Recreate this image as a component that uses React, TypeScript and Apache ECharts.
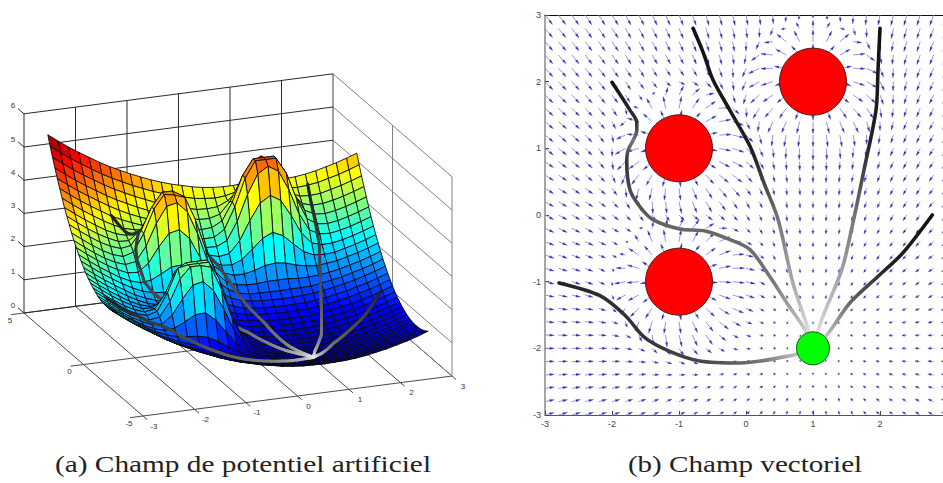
import React, { useEffect, useRef } from "react";
import * as echarts from "echarts";

// Heights of the potential surface.
// Rows run from y = 3 down to y = -3, columns from x = -3 to x = 3, one sample every 0.2.
const surfaceRows: number[][] = [
[5.99,5.76,5.54,5.34,5.15,4.96,4.79,4.64,4.49,4.36,4.23,4.12,4.02,3.94,3.86,3.80,3.76,3.74,3.74,3.77,3.77,3.77,3.74,3.74,3.76,3.80,3.86,3.94,4.02,4.12,4.23],
[5.70,5.47,5.25,5.05,4.86,4.67,4.50,4.35,4.20,4.07,3.94,3.83,3.73,3.65,3.57,3.53,3.50,3.53,3.60,3.70,3.74,3.70,3.60,3.53,3.50,3.53,3.57,3.65,3.73,3.83,3.94],
[5.43,5.20,4.98,4.78,4.59,4.40,4.23,4.08,3.93,3.80,3.67,3.56,3.46,3.38,3.30,3.28,3.30,3.44,3.71,4.00,4.14,4.00,3.71,3.44,3.30,3.28,3.30,3.38,3.46,3.56,3.67],
[5.17,4.94,4.72,4.52,4.33,4.14,3.97,3.82,3.67,3.54,3.41,3.30,3.20,3.12,3.06,3.05,3.14,3.48,4.05,4.54,4.73,4.54,4.05,3.48,3.14,3.05,3.06,3.12,3.20,3.30,3.41],
[4.92,4.69,4.47,4.27,4.08,3.89,3.72,3.57,3.44,3.32,3.19,3.08,2.97,2.87,2.82,2.84,3.00,3.53,4.30,4.75,4.75,4.75,4.30,3.53,3.00,2.84,2.82,2.87,2.95,3.05,3.16],
[4.68,4.45,4.23,4.03,3.84,3.65,3.50,3.37,3.25,3.16,3.04,2.92,2.78,2.67,2.60,2.61,2.81,3.44,4.26,4.75,4.75,4.75,4.26,3.44,2.81,2.61,2.58,2.63,2.71,2.81,2.92],
[4.45,4.22,4.00,3.80,3.61,3.44,3.30,3.22,3.17,3.15,3.07,2.91,2.70,2.52,2.40,2.39,2.53,3.06,3.83,4.42,4.61,4.42,3.83,3.06,2.53,2.37,2.35,2.40,2.48,2.58,2.69],
[4.23,4.00,3.78,3.58,3.39,3.24,3.15,3.18,3.33,3.50,3.52,3.26,2.86,2.48,2.24,2.15,2.20,2.54,3.11,3.60,3.79,3.60,3.11,2.54,2.20,2.11,2.12,2.18,2.26,2.36,2.47],
[4.03,3.80,3.58,3.38,3.21,3.07,3.05,3.28,3.73,4.10,4.17,3.86,3.26,2.58,2.12,1.95,1.92,2.04,2.31,2.60,2.74,2.60,2.31,2.04,1.90,1.88,1.90,1.98,2.06,2.16,2.27],
[3.84,3.61,3.39,3.19,3.03,2.92,2.97,3.39,4.04,4.45,4.45,4.27,3.57,2.69,2.04,1.78,1.67,1.67,1.74,1.84,1.88,1.84,1.74,1.67,1.64,1.67,1.71,1.79,1.87,1.97,2.08],
[3.65,3.42,3.20,3.00,2.84,2.74,2.83,3.35,4.05,4.45,4.39,4.28,3.58,2.65,1.90,1.58,1.45,1.40,1.40,1.43,1.43,1.43,1.40,1.40,1.42,1.46,1.52,1.60,1.68,1.78,1.89],
[3.48,3.25,3.03,2.83,2.67,2.56,2.61,3.03,3.68,4.15,4.22,3.91,3.21,2.33,1.68,1.40,1.26,1.19,1.18,1.18,1.17,1.18,1.18,1.19,1.23,1.29,1.35,1.43,1.51,1.61,1.72],
[3.33,3.10,2.88,2.68,2.51,2.37,2.35,2.58,3.03,3.40,3.47,3.16,2.56,1.88,1.42,1.21,1.10,1.04,1.01,1.00,.99,1.00,1.01,1.04,1.08,1.14,1.20,1.28,1.36,1.46,1.57],
[3.18,2.95,2.73,2.53,2.34,2.19,2.10,2.13,2.28,2.45,2.47,2.21,1.81,1.43,1.17,1.03,.93,.89,.86,.85,.84,.85,.86,.89,.93,.99,1.05,1.13,1.21,1.31,1.42],
[3.05,2.82,2.60,2.40,2.21,2.04,1.90,1.82,1.79,1.78,1.70,1.54,1.32,1.12,.97,.88,.80,.76,.73,.72,.71,.72,.73,.76,.80,.86,.92,1.00,1.08,1.18,1.29],
[2.92,2.69,2.47,2.27,2.08,1.89,1.76,1.65,1.56,1.51,1.40,1.27,1.09,.95,.83,.73,.67,.63,.60,.59,.58,.59,.60,.63,.67,.73,.79,.87,.95,1.05,1.16],
[2.81,2.58,2.36,2.16,1.97,1.80,1.66,1.58,1.55,1.54,1.46,1.30,1.08,.88,.73,.64,.56,.52,.49,.48,.47,.48,.49,.52,.56,.62,.68,.76,.84,.94,1.05],
[2.71,2.48,2.26,2.06,1.87,1.72,1.63,1.66,1.81,1.98,2.00,1.74,1.34,.96,.70,.56,.46,.42,.39,.38,.37,.38,.39,.42,.46,.52,.58,.66,.74,.84,.95],
[2.63,2.40,2.18,1.98,1.81,1.67,1.65,1.88,2.33,2.70,2.77,2.46,1.86,1.18,.72,.51,.40,.34,.31,.30,.29,.30,.31,.34,.38,.44,.50,.58,.66,.76,.87],
[2.55,2.32,2.10,1.90,1.74,1.63,1.68,2.10,2.75,2.95,2.95,2.95,2.28,1.40,.75,.47,.33,.26,.23,.22,.21,.22,.23,.26,.30,.36,.42,.50,.58,.68,.79],
[2.49,2.26,2.04,1.84,1.68,1.58,1.67,2.19,2.89,2.95,2.95,2.95,2.42,1.49,.74,.42,.27,.20,.17,.16,.15,.16,.17,.20,.24,.30,.36,.44,.52,.62,.73],
[2.43,2.20,1.98,1.78,1.62,1.51,1.56,1.98,2.63,2.95,2.95,2.86,2.16,1.28,.63,.35,.21,.14,.11,.10,.09,.10,.11,.14,.18,.24,.30,.38,.46,.56,.67],
[2.39,2.16,1.94,1.74,1.57,1.43,1.41,1.64,2.09,2.46,2.53,2.22,1.62,.94,.48,.27,.16,.10,.07,.06,.05,.06,.07,.10,.14,.20,.26,.34,.42,.52,.63],
[2.36,2.13,1.91,1.71,1.52,1.37,1.28,1.31,1.46,1.63,1.65,1.39,.99,.61,.35,.21,.11,.07,.04,.03,.02,.03,.04,.07,.11,.17,.23,.31,.39,.49,.60],
[2.35,2.12,1.90,1.70,1.51,1.34,1.20,1.12,1.07,1.05,.97,.81,.60,.42,.27,.18,.10,.06,.03,.02,.01,.02,.03,.06,.10,.16,.22,.30,.38,.48,.59],
[2.34,2.11,1.89,1.69,1.50,1.31,1.16,1.03,.91,.82,.70,.58,.44,.33,.23,.15,.09,.05,.02,.01,0,.01,.02,.05,.09,.15,.21,.29,.37,.47,.58],
[2.35,2.12,1.90,1.70,1.51,1.32,1.15,1.00,.87,.75,.62,.51,.40,.30,.22,.16,.10,.06,.03,.02,.01,.02,.03,.06,.10,.16,.22,.30,.38,.48,.59],
[2.36,2.13,1.91,1.71,1.52,1.33,1.16,1.01,.86,.73,.60,.49,.39,.31,.23,.17,.11,.07,.04,.03,.02,.03,.04,.07,.11,.17,.23,.31,.39,.49,.60],
[2.39,2.16,1.94,1.74,1.55,1.36,1.19,1.04,.89,.76,.63,.52,.42,.34,.26,.20,.14,.10,.07,.06,.05,.06,.07,.10,.14,.20,.26,.34,.42,.52,.63],
[2.43,2.20,1.98,1.78,1.59,1.40,1.23,1.08,.93,.80,.67,.56,.46,.38,.30,.24,.18,.14,.11,.10,.09,.10,.11,.14,.18,.24,.30,.38,.46,.56,.67],
[2.49,2.26,2.04,1.84,1.65,1.46,1.29,1.14,.99,.86,.73,.62,.52,.44,.36,.30,.24,.20,.17,.16,.15,.16,.17,.20,.24,.30,.36,.44,.52,.62,.73],
];

// Robot paths as [x, y].
const pathA = [[-2.79,-1.02],[-2.18,-1.21],[-1.81,-1.5],[-1.51,-1.84],[-1.13,-2.05],[-.69,-2.19],[-.09,-2.22],[.66,-2.11],[1,-2]];
const pathB = [[-2,1.99],[-1.73,1.57],[-1.63,1.39],[-1.63,1.27],[-1.76,.97],[-1.78,.79],[-1.73,.37],[-1.58,.12],[-1.39,-.07],[-.99,-.21],[-.61,-.24],[-.24,-.37],[.06,-.52],[.36,-.93],[.61,-1.32],[.88,-1.72],[1,-2]];
const pathC = [[-.79,2.8],[-.64,2.44],[-.49,2.02],[-.24,1.57],[.06,1.03],[.28,.45],[.48,-.07],[.7,-1.02],[.93,-1.72],[1,-2]];
const pathD = [[2,2.8],[1.97,2.17],[1.94,1.57],[1.76,.67],[1.6,-.1],[1.43,-.82],[1.13,-1.57],[1,-2]];
const pathE = [[2.78,0],[2.34,-.57],[1.96,-.93],[1.55,-1.32],[1.21,-1.8],[1,-2]];
const paths = [pathA, pathB, pathC, pathD, pathE];

const obstacles = [[-1,1],[-1,-1],[1,2]];
const goal = [[1,-2]];

const xTicks3d = [-3,-2,-1,0,1,2,3];
const yTicks3d = [-5,0,5];
const zTicks3d = [0,1,2,3,4,5,6];

const captionA = "(a) Champ de potentiel artificiel";
const captionB = "(b) Champ vectoriel";

const N = surfaceRows.length;
const STEP = 0.2;

// Oblique view of the box of the left-hand panel, onto that panel's plain x/y axes.
const project = (x: number, y: number, z: number) => {
  const u = (x + 3) / 6, v = (y + 5) / 10;
  return [143 + u * 309 - v * 119, 416 - u * 40 - v * 103 - z * 33.2];
};
const depthOf = (x: number, y: number) => 40 * (x + 3) / 6 + 103 * (y + 5) / 10;

const clamp = (v: number) => Math.max(0, Math.min(1, v));
const jet = (v: number) => {
  const c = (o: number) => Math.round(255 * clamp(1.5 - Math.abs(4 * v - o)));
  return `rgb(${c(3)},${c(2)},${c(1)})`;
};

const heightAt = (x: number, y: number) => {
  const fi = Math.max(0, Math.min(N - 1.001, (x + 3) / STEP));
  const fj = Math.max(0, Math.min(N - 1.001, (3 - y) / STEP));
  const i = Math.floor(fi), j = Math.floor(fj), a = fi - i, b = fj - j;
  return (surfaceRows[j][i] * (1 - a) + surfaceRows[j][i + 1] * a) * (1 - b) +
    (surfaceRows[j + 1][i] * (1 - a) + surfaceRows[j + 1][i + 1] * a) * b;
};

const grayStops = [[0, 0x1c], [0.15, 0x33], [0.5, 0x55], [0.8, 0x80], [0.95, 0xbb], [1, 0xee]];
const grayAt = (t: number) => {
  for (let k = 1; k < grayStops.length; k++) {
    if (t <= grayStops[k][0]) {
      const [t0, g0] = grayStops[k - 1], [t1, g1] = grayStops[k];
      const g = Math.round(g0 + (g1 - g0) * (t - t0) / (t1 - t0));
      return `rgb(${g},${g},${g})`;
    }
  }
  return "#eee";
};

type Item = { depth: number; pts: number[][]; fill?: string; stroke?: string };

const buildSurfaceItems = () => {
  const items: Item[] = [];
  for (let j = 0; j < N - 1; j++) {
    for (let i = 0; i < N - 1; i++) {
      const xs = [i, i + 1, i + 1, i], js = [j, j, j + 1, j + 1];
      const pts = xs.map((ci, k) => project(-3 + ci * STEP, 3 - js[k] * STEP, surfaceRows[js[k]][ci]));
      const zMean = (surfaceRows[j][i] + surfaceRows[j][i + 1] + surfaceRows[j + 1][i] + surfaceRows[j + 1][i + 1]) / 4;
      items.push({
        depth: depthOf(-3 + (i + 0.5) * STEP, 3 - (j + 0.5) * STEP),
        pts,
        fill: jet(zMean / 6),
      });
    }
  }
  paths.forEach((p) => {
    let total = 0;
    for (let k = 1; k < p.length; k++) total += Math.hypot(p[k][0] - p[k - 1][0], p[k][1] - p[k - 1][1]);
    let run = 0;
    for (let k = 1; k < p.length; k++) {
      const len = Math.hypot(p[k][0] - p[k - 1][0], p[k][1] - p[k - 1][1]);
      const n = Math.max(1, Math.ceil(len / 0.08));
      for (let s = 0; s < n; s++) {
        const a = s / n, b = (s + 1) / n;
        const xa = p[k - 1][0] + (p[k][0] - p[k - 1][0]) * a, ya = p[k - 1][1] + (p[k][1] - p[k - 1][1]) * a;
        const xb = p[k - 1][0] + (p[k][0] - p[k - 1][0]) * b, yb = p[k - 1][1] + (p[k][1] - p[k - 1][1]) * b;
        items.push({
          depth: depthOf((xa + xb) / 2, (ya + yb) / 2) - 2.6,
          pts: [project(xa, ya, heightAt(xa, ya) + 0.03), project(xb, yb, heightAt(xb, yb) + 0.03)],
          stroke: grayAt((run + len * (a + b) / 2) / total),
        });
      }
      run += len;
    }
  });
  return items.sort((p, q) => q.depth - p.depth);
};

// The arrows of the right-hand panel follow the slope of the height table above.
const buildArrows = () => {
  const out: number[][] = [];
  for (let j = 0; j < N; j++) {
    for (let i = 0; i < N; i++) {
      const il = Math.max(0, i - 1), ir = Math.min(N - 1, i + 1);
      const jt = Math.max(0, j - 1), jb = Math.min(N - 1, j + 1);
      const gx = (surfaceRows[j][ir] - surfaceRows[j][il]) / ((ir - il) * STEP);
      const gy = (surfaceRows[jt][i] - surfaceRows[jb][i]) / ((jb - jt) * STEP);
      out.push([-3 + i * STEP, 3 - j * STEP, -gx, -gy]);
    }
  }
  return out;
};

type Seg = { a: number[]; b: number[]; color: string };
type Label = { at: number[]; text: string };

const buildBox = () => {
  const segs: Seg[] = [];
  const labels: Label[] = [];
  const add = (a: number[], b: number[], color: string) => segs.push({ a: project(a[0], a[1], a[2]), b: project(b[0], b[1], b[2]), color });
  const wallBack = "#2a2a2a", wallSide = "#808080", floor = "#4a4a4a";
  xTicks3d.forEach((x) => {
    add([x, 5, 0], [x, 5, 6], x === 3 ? wallSide : wallBack);
    add([x, -5.35, 0], [x, 5, 0], floor);
    const p = project(x, -5, 0);
    labels.push({ at: [p[0] + 11, p[1] + 10], text: String(x) });
  });
  yTicks3d.forEach((y) => {
    add([3, y, 0], [3, y, 6], wallSide);
    add([-3.25, y, 0], [3, y, 0], floor);
    const p = project(-3, y, 0);
    labels.push({ at: [p[0] - 14, p[1] + 7], text: String(y) });
  });
  zTicks3d.forEach((z) => {
    add([-3, 5, z], [3, 5, z], wallBack);
    add([3, 5, z], [3, -5, z], wallSide);
    add([-3, 5.5, z], [-3, 5, z], wallBack);
    const p = project(-3, 5, z);
    labels.push({ at: [p[0] - 11, p[1] - 8], text: String(z) });
  });
  return { segs, labels };
};

const surfaceItems = buildSurfaceItems();
const arrows = buildArrows();
const box = buildBox();

const lineGradient = (horizontal: boolean, stops: [number, string][]) =>
  new echarts.graphic.LinearGradient(0, 0, horizontal ? 1 : 0, horizontal ? 0 : 1,
    stops.map(([offset, color]) => ({ offset, color })));

const pathGradients = [
  lineGradient(true, [[0, "#222"], [0.55, "#444"], [0.8, "#777"], [0.93, "#bbb"], [1, "#eee"]]),
  lineGradient(false, [[0, "#111"], [0.15, "#333"], [0.22, "#777"], [0.3, "#333"], [0.55, "#666"], [0.75, "#777"], [0.9, "#bbb"], [1, "#eee"]]),
  lineGradient(false, [[0, "#111"], [0.4, "#222"], [0.6, "#777"], [0.8, "#aaa"], [1, "#eee"]]),
  lineGradient(false, [[0, "#111"], [0.35, "#222"], [0.6, "#777"], [0.8, "#aaa"], [1, "#eee"]]),
  lineGradient(false, [[0, "#111"], [0.4, "#222"], [0.65, "#666"], [0.85, "#aaa"], [1, "#eee"]]),
];

const App = () => {
  const ref = useRef<HTMLDivElement>(null);
  useEffect(() => {
    document.body.style.margin = "0";
    const chart = echarts.init(ref.current!, undefined, { renderer: "svg" });
    const labelFont = "Liberation Sans";
    const captionStyle = { font: "23px 'Liberation Serif'", fill: "#222", textAlign: "center", textVerticalAlign: "middle" };
    chart.setOption({
      animation: false,
      backgroundColor: "#fff",
      graphic: [
        { type: "text", x: 243, y: 465, scaleX: 1.275, style: { ...captionStyle, text: captionA } },
        { type: "text", x: 745, y: 465, scaleX: 1.265, style: { ...captionStyle, text: captionB } },
      ],
      grid: [
        { left: 0, top: 0, width: 480, height: 483, outerBoundsMode: "none" },
        { left: 545, top: 15, width: 402, height: 400, outerBoundsMode: "none" },
      ],
      xAxis: [
        { type: "value", gridIndex: 0, min: 0, max: 480, show: false },
        {
          type: "value", gridIndex: 1, min: -3, max: 3, interval: 1, position: "bottom",
          splitLine: { show: false },
          axisLine: { lineStyle: { color: "#555", width: 1.2 }, onZero: false },
          axisTick: { inside: true, length: 4, lineStyle: { color: "#444" } },
          axisLabel: { fontFamily: labelFont, fontSize: 9, color: "#444", margin: 4, showMaxLabel: false },
        },
        {
          type: "value", gridIndex: 1, min: -3, max: 3, interval: 1, position: "top",
          splitLine: { show: false },
          axisLine: { lineStyle: { color: "#111", width: 1.2 }, onZero: false },
          axisTick: { show: false }, axisLabel: { show: false },
        },
      ],
      yAxis: [
        { type: "value", gridIndex: 0, min: 0, max: 483, inverse: true, show: false },
        {
          type: "value", gridIndex: 1, min: -3, max: 3, interval: 1,
          splitLine: { show: false },
          axisLine: { lineStyle: { color: "#888", width: 1.5 }, onZero: false },
          axisTick: { inside: true, length: 4, lineStyle: { color: "#444" } },
          axisLabel: { fontFamily: labelFont, fontSize: 9, color: "#444", margin: 4 },
        },
      ],
      series: [
        {
          type: "custom", xAxisIndex: 0, yAxisIndex: 0, silent: true, progressive: 0, clip: false, z: 1,
          data: box.segs.map((s) => s.a).concat(box.labels.map((l) => l.at)),
          renderItem: (params: any, api: any) => {
            const n = params.dataIndex;
            if (n < box.segs.length) {
              const s = box.segs[n];
              const a = api.coord(s.a), b = api.coord(s.b);
              return { type: "line", shape: { x1: a[0], y1: a[1], x2: b[0], y2: b[1] }, style: { stroke: s.color, lineWidth: 1 } };
            }
            const l = box.labels[n - box.segs.length];
            const p = api.coord(l.at);
            return {
              type: "text", x: p[0], y: p[1],
              style: { text: l.text, fontFamily: labelFont, fontSize: 8, fill: "#333", align: "center", verticalAlign: "middle" },
            };
          },
        },
        {
          type: "custom", xAxisIndex: 0, yAxisIndex: 0, silent: true, progressive: 0, clip: false, z: 2,
          data: surfaceItems.map((it) => it.pts[0]),
          renderItem: (params: any, api: any) => {
            const it = surfaceItems[params.dataIndex];
            const pts = it.pts.map((p) => api.coord(p));
            if (it.stroke) {
              return {
                type: "polyline", shape: { points: pts },
                style: { stroke: it.stroke, lineWidth: 3, fill: "none", lineCap: "round" },
              };
            }
            return {
              type: "polygon", shape: { points: pts },
              style: { fill: it.fill, stroke: "#0a0a14", lineWidth: 0.9, lineJoin: "round" },
            };
          },
        },
        {
          type: "custom", xAxisIndex: 1, yAxisIndex: 1, silent: true, progressive: 0, clip: false, z: 3,
          data: arrows.map((a) => [a[0], a[1]]),
          renderItem: (params: any, api: any) => {
            const [x, y, dx, dy] = arrows[params.dataIndex];
            const g = Math.hypot(dx, dy);
            const t = api.coord([x, y]);
            const len = Math.min(12, 8.5 * Math.pow(g, 0.6));
            const ux = g ? dx / g : 0, uy = g ? -dy / g : 0;
            const ex = t[0] + ux * len, ey = t[1] + uy * len;
            const hl = Math.min(4.5, len * 0.55), hw = 1.1;
            const bx = ex - ux * hl, by = ey - uy * hl;
            return {
              type: "group",
              children: [
                { type: "line", shape: { x1: t[0], y1: t[1], x2: bx, y2: by }, style: { stroke: "#8888e4", lineWidth: 0.9 } },
                {
                  type: "polygon",
                  shape: { points: [[ex, ey], [bx - uy * hw, by + ux * hw], [bx + uy * hw, by - ux * hw]] },
                  style: { fill: "#2c2cb8", stroke: "#2c2cb8", lineWidth: 0.3 },
                },
              ],
            };
          },
        },
        ...paths.map((p, k) => ({
          type: "line", xAxisIndex: 1, yAxisIndex: 1, data: p, smooth: 0.3, symbol: "none", z: 4, silent: true,
          lineStyle: { width: 3.6, color: pathGradients[k], cap: "round" },
        })),
        {
          type: "scatter", xAxisIndex: 1, yAxisIndex: 1, data: obstacles, symbolSize: 67, z: 5, silent: true,
          itemStyle: { color: "#ff0000", borderColor: "#5a1010", borderWidth: 1, opacity: 1 },
        },
        {
          type: "scatter", xAxisIndex: 1, yAxisIndex: 1, data: goal, symbolSize: 33, z: 5, silent: true,
          itemStyle: { color: "#00ff00", borderColor: "#115511", borderWidth: 1, opacity: 1 },
        },
      ],
    });
    return () => chart.dispose();
  }, []);
  return <div ref={ref} style={{ width: 943, height: 483 }} />;
};

export default App;
